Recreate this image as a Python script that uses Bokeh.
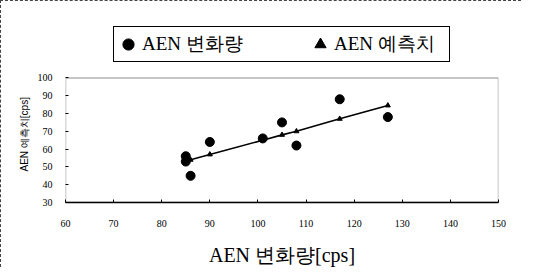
from bokeh.plotting import figure
from bokeh.models import Legend, LegendItem, FixedTicker, BoxAnnotation, Title
from bokeh.embed import file_html
from bokeh.resources import INLINE

# Data
x_actual = [85, 85, 86, 90, 101, 105, 108, 117, 127]
y_actual = [56, 53, 45, 64, 66, 75, 62, 88, 78]
x_pred = [85, 86, 90, 101, 105, 108, 117, 127]
y_pred = [53, 54, 57, 65, 68, 70, 77, 84.5]
x_ticks = [60, 70, 80, 90, 100, 110, 120, 130, 140, 150]
y_ticks = [30, 40, 50, 60, 70, 80, 90, 100]
x_min, x_max = 60, 150
y_min, y_max = 30, 100

# frame extends above y_max to host the legend box (legend is clipped to the frame)
y_top = y_min + 188 * (y_max - y_min) / 128

p = figure(width=521, height=267, x_range=(x_min, x_max), y_range=(y_min, y_top),
           output_backend="svg", toolbar_location=None,
           min_border_left=64, min_border_right=24,
           min_border_top=18, min_border_bottom=61)
p.styles = {"border-top": "1px dashed #444", "border-left": "1px dashed #444"}

p.grid.visible = False
p.outline_line_color = None

# the real plot box
p.add_layout(BoxAnnotation(left=x_min, right=x_max, bottom=y_min, top=y_max,
                           fill_alpha=0, line_color="black", line_width=1.5))

r_line = p.line(x_pred, y_pred, line_color="black", line_width=1.6)
r_tri = p.scatter(x_pred, y_pred, marker="triangle", size=5, fill_color="black",
                  line_color="black")
r_circ = p.scatter(x_actual, y_actual, marker="circle", size=9, fill_color="black",
                   line_color="black")

for ax in (p.xaxis[0], p.yaxis[0]):
    ax.major_tick_in = 3
    ax.major_tick_out = 0
    ax.minor_tick_line_color = None
    ax.major_tick_line_color = "black"
    ax.major_label_text_font = "Liberation Serif"
    ax.major_label_text_font_size = "10px"
    ax.major_label_text_color = "black"
    ax.axis_label_text_color = "black"
    ax.axis_label_text_font_style = "normal"

p.xaxis.axis_line_color = "black"
p.xaxis.axis_line_width = 1.5
p.yaxis.axis_line_color = None

p.xaxis.ticker = FixedTicker(ticks=x_ticks)
p.yaxis.ticker = FixedTicker(ticks=y_ticks)
p.xaxis.major_label_standoff = 17
p.yaxis.major_label_standoff = 13

p.xaxis.axis_label = "AEN 변화량[cps]"
p.xaxis.axis_label_text_font = "Liberation Serif"
p.xaxis.axis_label_text_font_size = "20px"
p.xaxis.axis_label_standoff = 14

p.add_layout(Title(text="AEN 예측치[cps]", align="left", offset=31,
                   text_font="Liberation Sans", text_font_size="10px",
                   text_font_style="normal", text_color="black", standoff=10), "left")

legend = Legend(items=[LegendItem(label="AEN 변화량", renderers=[r_circ]),
                       LegendItem(label="AEN 예측치", renderers=[r_tri])],
                orientation="horizontal", location=(48, 140),
                glyph_width=28, glyph_height=34, label_standoff=0,
                label_width=115, spacing=49, padding=0, margin=0,
                border_line_color="black", border_line_width=1.5,
                border_line_alpha=1.0,
                label_text_font="Liberation Serif", label_text_font_size="19px",
                label_text_color="black")
p.add_layout(legend, "center")

open("out.html", "w").write(file_html(p, INLINE))
